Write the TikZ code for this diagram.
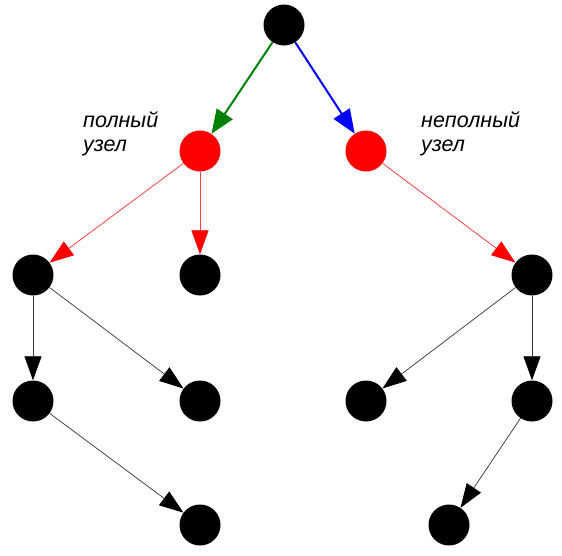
\documentclass[tikz,border=0pt]{standalone}
\usepackage{fontspec}
\setmainfont{Liberation Sans}
\usetikzlibrary{arrows.meta}
\begin{document}
\begin{tikzpicture}[x=1pt,y=-1pt,
  dot/.style={circle,fill=black,inner sep=0pt,minimum size=41pt},
  rdot/.style={circle,fill=red,inner sep=0pt,minimum size=41pt},
  ge/.style={-{Triangle[length=24pt,width=19pt,fill=green!50!black]},draw=green!50!black,line width=2pt},
  be/.style={-{Triangle[length=24pt,width=19pt,fill=blue]},draw=blue,line width=2pt},
  re/.style={-{Triangle[length=24pt,width=17pt,fill=red,color=red]},draw=red!75,line width=0.8pt},
  ke/.style={-{Triangle[length=24pt,width=17pt,fill=black,color=black]},draw=black!80,line width=0.7pt},
  lbl/.style={anchor=base west,inner sep=0pt,font=\fontsize{21.5pt}{24pt}\selectfont\itshape}]
\useasboundingbox (0,0) rectangle (562,555);
\node[dot] (r) at (284,25) {};
\node[rdot] (a) at (200,151) {};
\node[rdot] (b) at (366,151) {};
\node[dot] (a1) at (33,275) {};
\node[dot] (a2) at (200,275) {};
\node[dot] (b1) at (532,275) {};
\node[dot] (a11) at (33,401) {};
\node[dot] (a12) at (200,401) {};
\node[dot] (b11) at (366,401) {};
\node[dot] (b12) at (532,401) {};
\node[dot] (a111) at (200,525) {};
\node[dot] (b121) at (449,525) {};
\node[lbl] (t1) at (83,127) {полный};
\node[lbl] (t2) at (83,151) {узел};
\node[lbl] (t3) at (421,127) {неполный};
\node[lbl] (t4) at (421,151) {узел};
\draw[ge] (r) -- (a);
\draw[be] (r) -- (b);
\draw[re] (a) -- (a1);
\draw[re] (a) -- (a2);
\draw[re] (b) -- (b1);
\draw[ke] (a1) -- (a11);
\draw[ke] (a1) -- (a12);
\draw[ke] (a11) -- (a111);
\draw[ke] (b1) -- (b11);
\draw[ke] (b1) -- (b12);
\draw[ke] (b12) -- (b121);
\end{tikzpicture}
\end{document}
